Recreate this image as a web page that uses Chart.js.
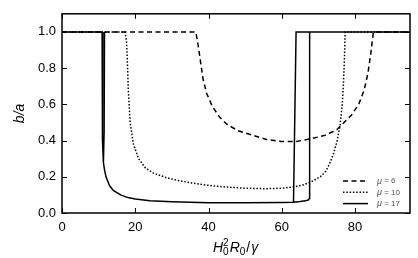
<!DOCTYPE html>
<html>
<head>
<meta charset="utf-8">
<script src="https://cdn.jsdelivr.net/npm/chart.js@4"></script>
<style>
  html, body { margin: 0; padding: 0; background: #fff; }
  canvas { display: block; }
</style>
</head>
<body>
<canvas id="chart" width="418" height="258"></canvas>
<script>
// values; null splits a line into separate branches
const muValues = [6, 10, 17];

const mu6X = [0, 36.5, 37, 37.5, 38.5, 39.5, 41, 43, 45, 48, 52, 56, 60, 64, 68, 72, 75, 77, 79, 81, 82.5, 83.5, 84.3, 85, 95];
const mu6Y = [1.0, 1.0, 0.95, 0.88, 0.74, 0.66, 0.59, 0.53, 0.49, 0.455, 0.43, 0.405, 0.395, 0.395, 0.41, 0.43, 0.46, 0.5, 0.54, 0.6, 0.68, 0.77, 0.88, 1.0, 1.0];

const mu10X = [0, 17.2, 17.6, 17.8, 18.1, 18.6, 19.5, 20.9, 22.7, 25, 28.5, 32, 36.6, 41, 45.6, 50, 55.7, 60, 63, 66, 68.3, 70.5, 72, 73, 74, 75, 75.9, 76.5, 76.8, 77.1, 77.3, 95];
const mu10Y = [1.0, 1.0, 0.95, 0.86, 0.68, 0.5, 0.38, 0.3, 0.25, 0.22, 0.195, 0.178, 0.162, 0.15, 0.142, 0.137, 0.134, 0.137, 0.143, 0.156, 0.175, 0.2, 0.23, 0.27, 0.32, 0.39, 0.48, 0.6, 0.7, 0.85, 1.0, 1.0];

const mu17X = [0, 10.95, 11.05, 11.3, 11.6, 12, 13, 14, 16, 18, 20, 24, 30, 40, 50, 60, 63.2, 65, 66.5, 67.3, 67.5, 67.6, 95,
               null, 11.6, 11.5, 11.3,
               null, 63.2, 63.9, 67.6];
const mu17Y = [1.0, 1.0, 0.4, 0.28, 0.24, 0.2, 0.15, 0.125, 0.1, 0.085, 0.077, 0.067, 0.062, 0.057, 0.056, 0.058, 0.06, 0.063, 0.067, 0.073, 0.08, 1.0, 1.0,
               null, 1.0, 0.45, 0.28,
               null, 0.06, 1.0, 1.0];

const xTicks = [0, 20, 40, 60, 80];
const yTicks = [0.0, 0.2, 0.4, 0.6, 0.8, 1.0];

const FONT = '"Liberation Sans", Arial, Helvetica, sans-serif';

function toPoints(xs, ys) {
    return xs.map((x, i) => ({ x: x === null ? NaN : x, y: ys[i] }));
}

const framePlugin = {
    id: 'frame',
    afterDraw(chart) {
        const { ctx, chartArea: a, scales: { x, y } } = chart;
        ctx.save();
        ctx.strokeStyle = '#000';

        // inward ticks on all four sides
        ctx.lineWidth = 1;
        ctx.beginPath();
        xTicks.forEach(v => {
            const px = Math.round(x.getPixelForValue(v)) + 0.5;
            ctx.moveTo(px, a.bottom); ctx.lineTo(px, a.bottom - 5);
            ctx.moveTo(px, a.top); ctx.lineTo(px, a.top + 5);
        });
        yTicks.forEach(v => {
            const py = Math.round(y.getPixelForValue(v)) + 0.5;
            ctx.moveTo(a.left, py); ctx.lineTo(a.left + 5, py);
            ctx.moveTo(a.right, py); ctx.lineTo(a.right - 5, py);
        });
        ctx.stroke();

        ctx.lineWidth = 1.5;
        ctx.strokeRect(a.left, a.top, a.right - a.left, a.bottom - a.top);

        // legend, lower right inside the axes
        const lx = a.right - 67, rowH = 11.3;
        chart.data.datasets.forEach((ds, i) => {
            if (!ds.label) return;
            const ly = a.bottom - 32 + i * rowH;
            ctx.setLineDash(ds.borderDash || []);
            ctx.lineWidth = ds.borderWidth;
            ctx.beginPath();
            ctx.moveTo(lx, ly); ctx.lineTo(lx + 25, ly);
            ctx.stroke();
            ctx.setLineDash([]);
            ctx.fillStyle = '#555';
            ctx.textBaseline = 'middle';
            ctx.font = 'italic 9px ' + FONT;
            ctx.fillText('\u03bc', lx + 34, ly);
            const w = ctx.measureText('\u03bc').width;
            ctx.font = '8px ' + FONT;
            ctx.fillText(' = ' + muValues[i], lx + 34 + w, ly);
        });

        // x axis title: H_0^2 R_0 / gamma
        ctx.fillStyle = '#000';
        ctx.textBaseline = 'alphabetic';
        let tx = 213;
        const ty = 252;
        ctx.font = 'italic 14px ' + FONT;
        ctx.fillText('H', tx, ty);
        tx += ctx.measureText('H').width;
        ctx.font = '10px ' + FONT;
        ctx.fillText('2', tx, ty - 6);
        ctx.fillText('0', tx, ty + 3);
        tx += ctx.measureText('0').width + 1;
        ctx.font = 'italic 14px ' + FONT;
        ctx.fillText('R', tx, ty);
        tx += ctx.measureText('R').width;
        ctx.font = '10px ' + FONT;
        ctx.fillText('0', tx, ty + 3);
        tx += ctx.measureText('0').width + 1;
        ctx.font = '14px ' + FONT;
        ctx.fillText('/', tx, ty);
        tx += ctx.measureText('/').width + 1;
        ctx.font = 'italic 14px ' + FONT;
        ctx.fillText('\u03b3', tx, ty);

        ctx.restore();
    }
};

new Chart(document.getElementById('chart'), {
    type: 'line',
    data: {
        datasets: [
            {
                label: 'mu6',
                data: toPoints(mu6X, mu6Y),
                borderColor: '#000',
                borderWidth: 1.5,
                borderDash: [5, 3.5]
            },
            {
                label: 'mu10',
                data: toPoints(mu10X, mu10Y),
                borderColor: '#000',
                borderWidth: 1.5,
                borderDash: [1.5, 1.8]
            },
            {
                label: 'mu17',
                data: toPoints(mu17X, mu17Y),
                borderColor: '#000',
                borderWidth: 1.5
            }
        ]
    },
    options: {
        responsive: false,
        animation: false,
        spanGaps: false,
        layout: { padding: { top: 9, right: 8, left: 0, bottom: 0 } },
        elements: {
            point: { radius: 0 },
            line: { tension: 0, fill: false }
        },
        scales: {
            x: {
                type: 'linear',
                min: 0,
                max: 95,
                afterFit(scale) { scale.height = 45; },
                afterBuildTicks(scale) { scale.ticks = xTicks.map(v => ({ value: v })); },
                grid: { display: false, drawTicks: false },
                border: { display: false },
                ticks: {
                    padding: 7,
                    maxRotation: 0,
                    autoSkip: false,
                    color: '#000',
                    font: { family: FONT, size: 13 }
                }
            },
            y: {
                type: 'linear',
                min: 0,
                max: 1.1,
                afterFit(scale) { scale.width = 62; },
                afterBuildTicks(scale) { scale.ticks = yTicks.map(v => ({ value: v })); },
                grid: { display: false, drawTicks: false },
                border: { display: false },
                ticks: {
                    padding: 6,
                    color: '#000',
                    font: { family: FONT, size: 13 },
                    callback: v => v.toFixed(1)
                },
                title: {
                    display: true,
                    text: 'b/a',
                    color: '#000',
                    padding: { top: 12, bottom: 0 },
                    font: { family: FONT, size: 14, style: 'italic' }
                }
            }
        },
        plugins: {
            legend: { display: false },
            tooltip: { enabled: false }
        }
    },
    plugins: [framePlugin]
});
</script>
</body>
</html>
